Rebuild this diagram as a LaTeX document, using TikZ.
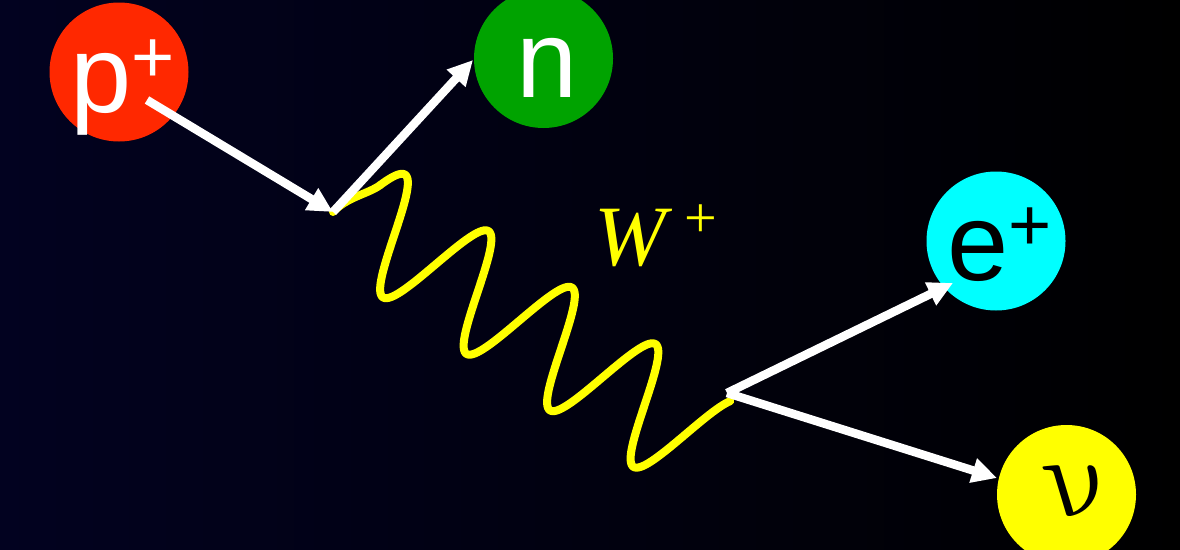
\documentclass[tikz,border=0pt]{standalone}
\usepackage{fontspec}
\setmainfont{Liberation Sans}
\newfontfamily\timesf{Liberation Serif}
\usetikzlibrary{arrows.meta}
\definecolor{bgleft}{RGB}{2,2,32}
\definecolor{pred}{RGB}{255,40,0}
\definecolor{ngreen}{RGB}{0,163,0}
\definecolor{ecyan}{RGB}{0,255,255}
\definecolor{nuyellow}{RGB}{255,255,0}
\begin{document}
\begin{tikzpicture}[x=1pt,y=-1pt,
  ball/.style={circle,minimum size=139pt,inner sep=0pt,draw=none},
  flow/.style={white,line width=8.5pt,-{Triangle[length=25pt,width=24pt]}},
  wave/.style={nuyellow,line width=8pt,line join=round,line cap=round},
  lab/.style={anchor=base,inner sep=0pt,font=\fontsize{110}{110}\selectfont}]
\useasboundingbox (0,0) rectangle (1180,549);
\shade[left color=bgleft, right color=black] (0,0) rectangle (1180,549);
% particles
\node[ball,fill=pred] (p) at (119,72) {};
\node[ball,fill=ngreen] (n) at (543.5,58.5) {};
\node[ball,fill=ecyan] (e) at (996,241) {};
\node[ball,fill=nuyellow] (nu) at (1066.5,494.5) {};
\node[lab,text=white] (plab) at (123,112) {p\raisebox{30pt}{\fontsize{74}{74}\selectfont +}};
\node[lab,text=white] (nlab) at (547,97) {n};
\node[lab,text=black] (elab) at (1000,280) {e\raisebox{30pt}{\fontsize{74}{74}\selectfont +}};
\begin{scope}[shift={(1094,516)},xslant=-0.55]
\node[anchor=base,inner sep=0pt,text=black,transform shape] (nulab) at (0,0) {\scalebox{11.5}{$\nu$}};
\end{scope}
\node[anchor=base west,inner sep=0pt,text=nuyellow,font=\fontsize{86}{86}\timesf] (wlab) at (594,265) {\itshape W\upshape\hspace{19pt}\raisebox{28pt}{\fontsize{58}{58}\selectfont +}};
% vertices
\coordinate (v1) at (333,212);
\coordinate (v2) at (727,393);
\coordinate (ps) at (147,100);
\coordinate (nt) at (473,60);
\coordinate (et) at (953,283);
\coordinate (nut) at (997,478);
% W boson
\draw[wave] (v1) .. controls (347,197) and (368,194) .. (380.2,185.1);
\draw[wave] plot[domain=-40:371,samples=300] ({394+0.8282*\x-31.94*sin(3.5714*\x)},{236+0.5604*\x+47.21*sin(3.5714*\x)});
% fermion lines
\draw[flow] (ps) -- (v1);
\draw[flow] (v1) -- (nt);
\draw[flow] (v2) -- (et);
\draw[flow] (v2) -- (nut);
\end{tikzpicture}
\end{document}
